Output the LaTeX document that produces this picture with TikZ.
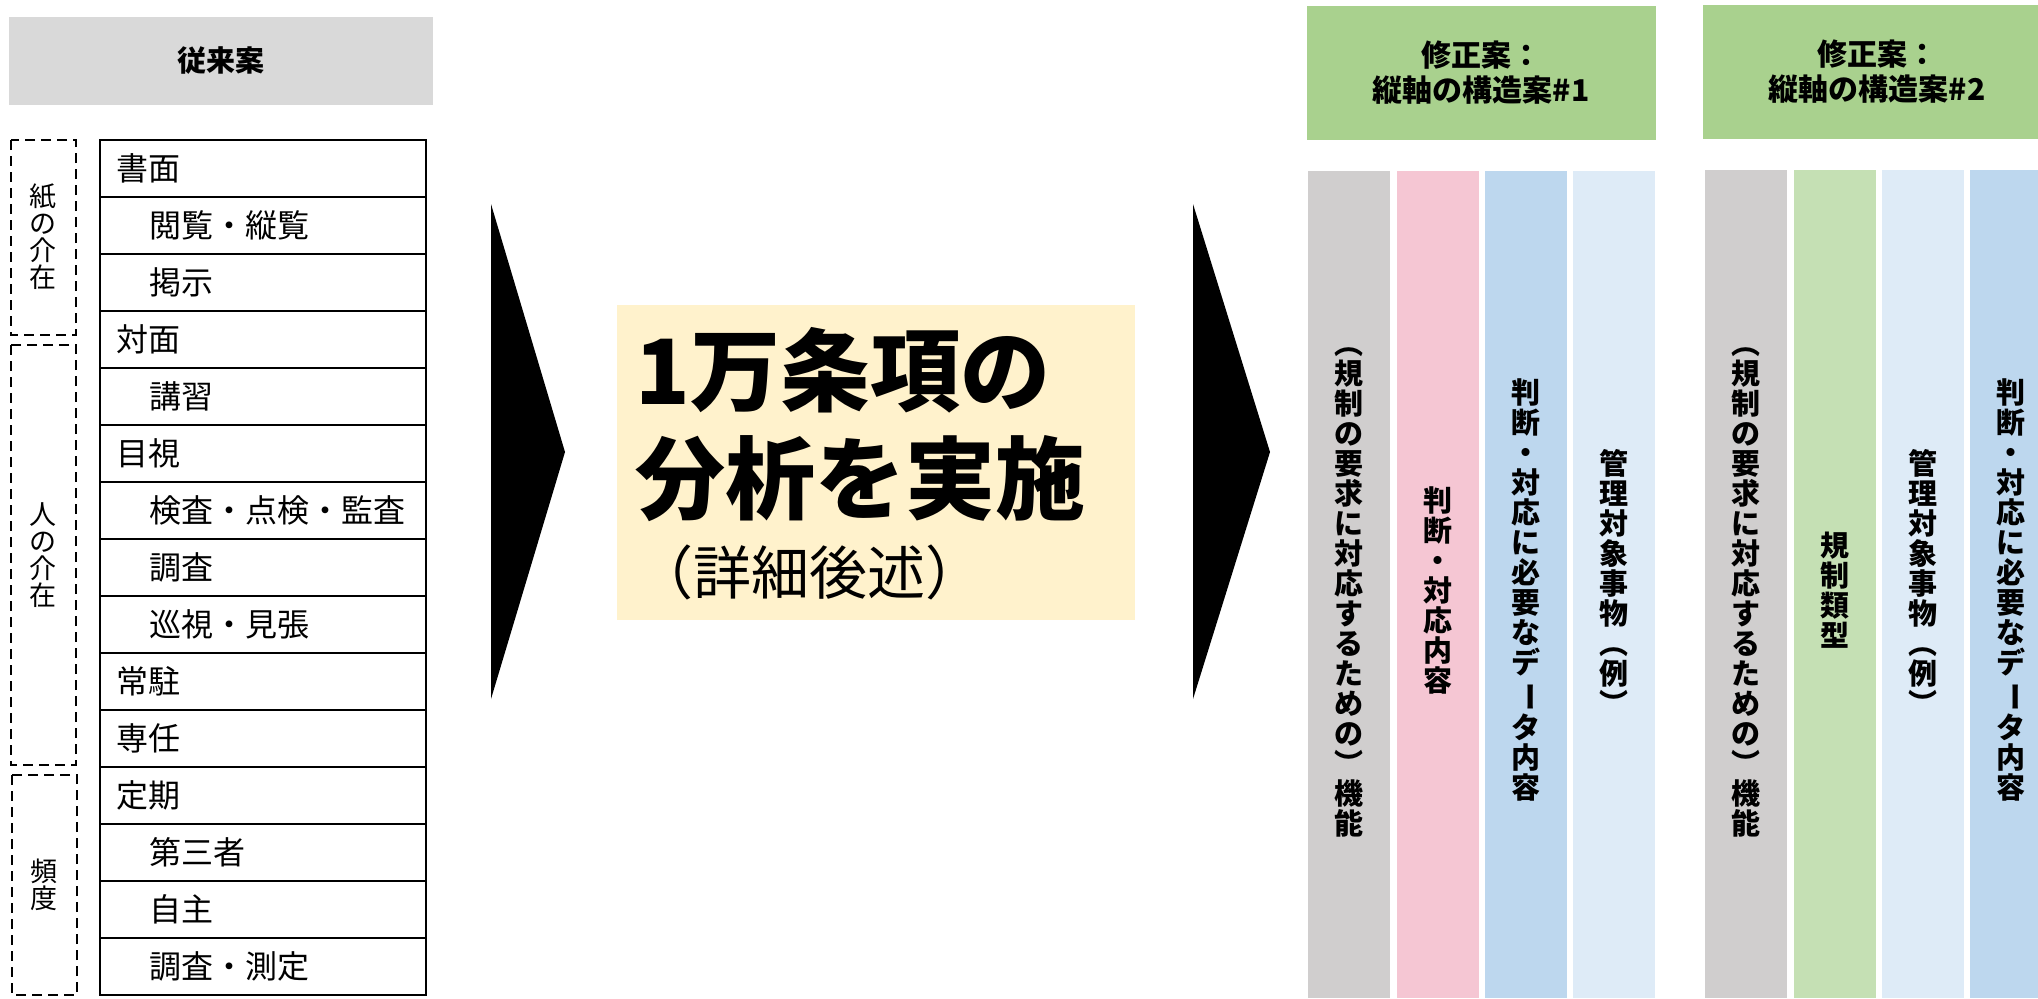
\documentclass[tikz,border=0pt]{standalone}
\usepackage{fontspec}
\usepackage{graphicx}
\setmainfont{Noto Sans CJK JP}
\definecolor{hdrgray}{HTML}{D9D9D9}
\definecolor{hdrgreen}{HTML}{A9D18E}
\definecolor{colgray}{HTML}{D0CECE}
\definecolor{colpink}{HTML}{F5C6D3}
\definecolor{colblue}{HTML}{BDD7EE}
\definecolor{collblue}{HTML}{DEEBF7}
\definecolor{colgreen}{HTML}{C5E0B4}
\definecolor{boxyellow}{HTML}{FFF2CC}
\newcommand{\vchoon}{\rotatebox[origin=c]{-90}{ー}}
\tikzset{
  rowtext/.style={anchor=west,inner sep=0pt,font=\fontsize{16}{16}\selectfont},
  sidetext/.style={inner sep=0pt,align=center,font=\fontsize{13.5}{13.5}\selectfont},
  dashbox/.style={draw=black,line width=1pt,dash pattern=on 5pt off 3pt},
  hdrtext/.style={inner sep=0pt,align=center,font=\bfseries\fontsize{15}{17.5}\selectfont},
  vtext/.style={inner sep=0pt,align=center,font=\bfseries\fontsize{14.5}{15}\selectfont},
  bigtext/.style={anchor=base west,inner sep=0pt,font=\bfseries\fontsize{45}{45}\selectfont},
}
\begin{document}
\begin{tikzpicture}[x=0.5pt,y=-0.5pt]
\useasboundingbox (0,0) rectangle (2038,998);
% ---- left: conventional ----
\fill[hdrgray] (9,17) rectangle (433,105);
\node[hdrtext,font=\bfseries\fontsize{14.5}{14.5}\selectfont] (hconv) at (221,61) {従来案};
\foreach \t/\ind [count=\i from 0] in {書面/0,閲覧・縦覧/1,掲示/1,対面/0,講習/1,目視/0,検査・点検・監査/1,調査/1,巡視・見張/1,常駐/0,専任/0,定期/0,第三者/1,自主/1,調査・測定/1}{
  \draw[line width=1pt] (100,{140+57*\i}) rectangle (426,{197+57*\i});
  \node[rowtext] (row\i) at ({116+33*\ind},{168.5+57*\i}) {\t};
}
\draw[dashbox] (11,140) rectangle (76,335);
\node[sidetext] (paper) at (43,237) {紙\\の\\介\\在};
\draw[dashbox] (11,345) rectangle (76,765);
\node[sidetext] (human) at (43,555) {人\\の\\介\\在};
\draw[dashbox] (12,775) rectangle (77,995);
\node[sidetext] (freq) at (44,885) {頻\\度};
% ---- arrows ----
\fill[black] (491,204) -- (565,452) -- (491,699) -- cycle;
\fill[black] (1193,204) -- (1270,452) -- (1193,699) -- cycle;
% ---- middle ----
\fill[boxyellow] (617,305) rectangle (1135,620);
\node[bigtext] (big1) at (635,404) {1万条項の};
\node[bigtext] (big2) at (635,512) {分析を実施};
\node[anchor=base west,inner sep=0pt,font=\fontsize{29}{29}\selectfont] (big3) at (635,594) {（詳細後述）};
% ---- right panel 1 ----
\fill[hdrgreen] (1307,6) rectangle (1656,140);
\node[hdrtext] (h1) at (1481,73) {修正案：\\縦軸の構造案\#1};
\fill[colgray]  (1308,171) rectangle (1390,998);
\fill[colpink]  (1397,171) rectangle (1479,998);
\fill[colblue]  (1485,171) rectangle (1567,998);
\fill[collblue] (1573,171) rectangle (1655,998);
\node[vtext] (p1c1) at (1349,592) {︵\\規\\制\\の\\要\\求\\に\\対\\応\\す\\る\\た\\め\\の\\︶\\機\\能};
\node[vtext] (p1c2) at (1438,590) {判\\断\\・\\対\\応\\内\\容};
\node[vtext] (p1c3) at (1526,590) {判\\断\\・\\対\\応\\に\\必\\要\\な\\デ\\\vchoon\\タ\\内\\容};
\node[vtext] (p1c4) at (1614,582) {管\\理\\対\\象\\事\\物\\︵\\例\\︶};
% ---- right panel 2 ----
\fill[hdrgreen] (1703,5) rectangle (2038,139);
\node[hdrtext] (h2) at (1877,72) {修正案：\\縦軸の構造案\#2};
\fill[colgray]  (1705,170) rectangle (1787,998);
\fill[colgreen] (1794,170) rectangle (1876,998);
\fill[collblue] (1882,170) rectangle (1964,998);
\fill[colblue]  (1970,170) rectangle (2038,998);
\node[vtext] (p2c1) at (1746,592) {︵\\規\\制\\の\\要\\求\\に\\対\\応\\す\\る\\た\\め\\の\\︶\\機\\能};
\node[vtext] (p2c2) at (1835,590) {規\\制\\類\\型};
\node[vtext] (p2c3) at (1923,582) {管\\理\\対\\象\\事\\物\\︵\\例\\︶};
\node[vtext] (p2c4) at (2011,590) {判\\断\\・\\対\\応\\に\\必\\要\\な\\デ\\\vchoon\\タ\\内\\容};
\end{tikzpicture}
\end{document}
